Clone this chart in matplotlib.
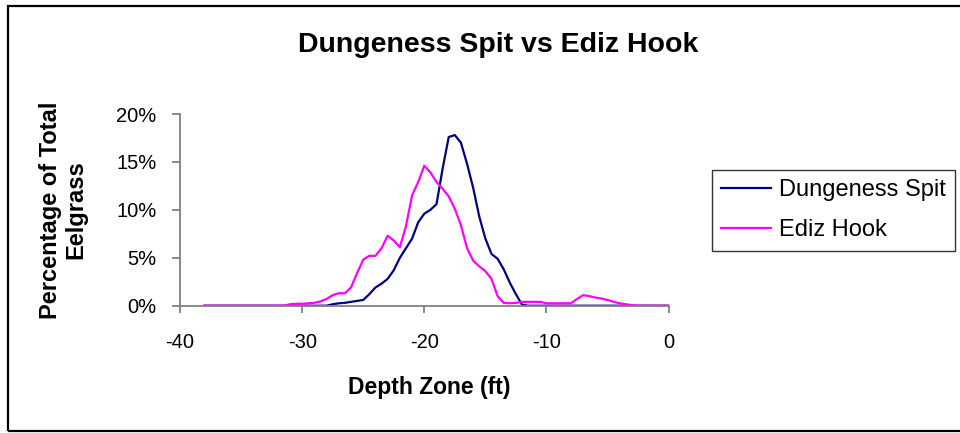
import matplotlib
matplotlib.use("Agg")
import matplotlib.pyplot as plt
import numpy as np
from matplotlib.patches import Rectangle
from matplotlib.ticker import FuncFormatter

plt.rcParams["font.family"] = ["Liberation Sans", "DejaVu Sans"]
plt.rcParams["axes.unicode_minus"] = False

# depth zones every 0.5 ft, -38 .. 0
depth = np.arange(-38.0, 0.01, 0.5)

# percentage of total eelgrass (%)
dungeness = [0] * 21 + [
    0.15, 0.25, 0.3, 0.4, 0.5, 0.6, 1.2, 1.9, 2.3, 2.8,        # -27.5 .. -23
    3.7, 5.0, 6.0, 7.0, 8.7, 9.6, 10.0, 10.6, 14.3, 17.6,      # -22.5 .. -18
    17.8, 17.0, 14.8, 12.3, 9.3, 7.0, 5.4, 4.9, 3.8, 2.4,      # -17.5 .. -13
    1.2, 0.1,                                                  # -12.5 .. -12
] + [0] * 24

ediz = [0] * 14 + [
    0.15, 0.2, 0.2, 0.25, 0.3, 0.45, 0.7, 1.1, 1.3, 1.3,       # -31 .. -26.5
    1.9, 3.4, 4.8, 5.2, 5.2, 6.0, 7.3, 6.8, 6.1, 8.3,          # -26 .. -21.5
    11.5, 12.9, 14.6, 13.9, 12.9, 12.2, 11.4, 10.1, 8.4, 6.0,  # -21 .. -16.5
    4.7, 4.1, 3.6, 2.8, 1.0, 0.3, 0.25, 0.3, 0.4, 0.4,         # -16 .. -11.5
    0.4, 0.4, 0.25, 0.25, 0.25, 0.25, 0.25, 0.7, 1.1, 1.0,     # -11 .. -6.5
    0.85, 0.75, 0.6, 0.4, 0.25, 0.15, 0.05,                    # -6 .. -3
] + [0] * 6

x_ticks = [-40, -30, -20, -10, 0]
y_ticks = [0, 5, 10, 15, 20]

W, H = 960, 433
fig = plt.figure(figsize=(W / 100, H / 100), dpi=100)

# outer chart border (runs off the right edge)
fig.patches.append(Rectangle((8 / W, 2 / H), 1.0, (H - 8) / H, transform=fig.transFigure,
                             fill=False, edgecolor="black", linewidth=1.6))

ax = fig.add_axes([180 / W, 1 - 305.7 / H, 488.6 / W, 191.7 / H])
ax.plot(depth, dungeness, color="#000080", lw=1.6, label="Dungeness Spit")
ax.plot(depth, ediz, color="#FF00FF", lw=1.6, label="Ediz Hook")

ax.set_xlim(-40, 0)
ax.set_ylim(0, 20)
ax.set_xticks(x_ticks)
ax.set_yticks(y_ticks)
ax.yaxis.set_major_formatter(FuncFormatter(lambda v, _: f"{v:.0f}%"))
for s in ["top", "right"]:
    ax.spines[s].set_visible(False)
for s in ["left", "bottom"]:
    ax.spines[s].set_color("#808080")
    ax.spines[s].set_linewidth(1.3)
ax.tick_params(colors="#808080", labelcolor="black", labelsize=14.5, width=1.3)
ax.tick_params(axis="x", length=5, pad=15)
ax.tick_params(axis="y", length=6, pad=11)

fig.text(498 / W, 1 - 52 / H, "Dungeness Spit vs Ediz Hook", ha="center", va="baseline",
         fontsize=20.5, fontweight="bold")
fig.text(429 / W, 1 - 394.3 / H, "Depth Zone (ft)", ha="center", va="baseline",
         fontsize=16.5, fontweight="bold")
fig.text(63 / W, 1 - 210 / H, "Percentage of Total\nEelgrass", ha="center", va="center",
         rotation=90, fontsize=17, fontweight="bold", linespacing=1.15)

leg = fig.legend(loc="upper left", bbox_to_anchor=(711.7 / W, 1 - 170 / H), fontsize=17,
                 frameon=True, fancybox=False, edgecolor="black", handlelength=2.1,
                 handletextpad=0.35, borderpad=0.4, labelspacing=0.75, borderaxespad=0)
leg.get_frame().set_linewidth(1.0)

fig.savefig("out.png", dpi=100)
